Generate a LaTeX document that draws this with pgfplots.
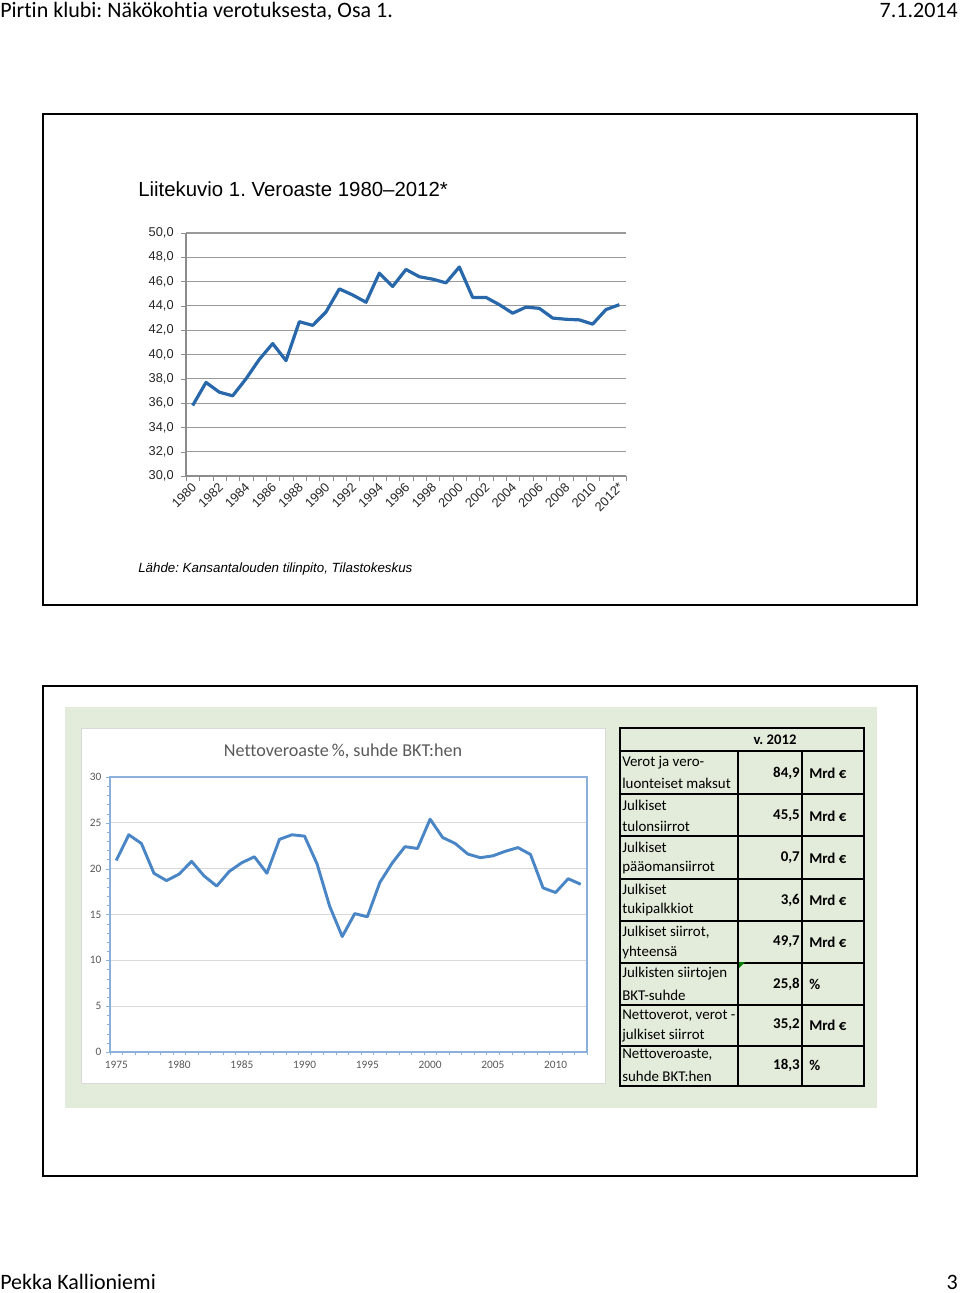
\documentclass[border=0pt]{standalone}
\usepackage{pgfplots}
\pgfplotsset{compat=1.18}
\usepackage{fontspec}
\setmainfont{Carlito}[Ligatures={NoCommon}]
\newfontfamily\arial{Liberation Sans}
\usepackage{graphicx}
\frenchspacing

\definecolor{bggreen}{RGB}{227,236,218}
\definecolor{topline}{RGB}{40,104,170}
\definecolor{botline}{RGB}{74,134,198}
\definecolor{axblue}{RGB}{140,176,220}
\definecolor{txtgray}{RGB}{89,89,89}

\pgfplotstableread{
year val
1980 35.8
1981 37.7
1982 36.9
1983 36.6
1984 38.0
1985 39.6
1986 40.9
1987 39.5
1988 42.7
1989 42.4
1990 43.5
1991 45.4
1992 44.9
1993 44.3
1994 46.7
1995 45.6
1996 47.0
1997 46.4
1998 46.2
1999 45.9
2000 47.2
2001 44.7
2002 44.7
2003 44.1
2004 43.4
2005 43.9
2006 43.8
2007 43.0
2008 42.9
2009 42.85
2010 42.5
2011 43.7
2012 44.1
}\veroaste

\pgfplotstableread{
year val
1975 20.9
1976 23.7
1977 22.75
1978 19.5
1979 18.7
1980 19.4
1981 20.8
1982 19.2
1983 18.1
1984 19.7
1985 20.65
1986 21.3
1987 19.5
1988 23.2
1989 23.7
1990 23.55
1991 20.5
1992 15.9
1993 12.6
1994 15.1
1995 14.75
1996 18.5
1997 20.65
1998 22.4
1999 22.2
2000 25.4
2001 23.4
2002 22.75
2003 21.6
2004 21.2
2005 21.4
2006 21.9
2007 22.3
2008 21.55
2009 17.9
2010 17.4
2011 18.9
2012 18.3
}\netto

\begin{document}
\begin{tikzpicture}
\begin{scope}[x=0.75pt,y=-0.75pt]
\fill[white] (0,0) rectangle (960,1293);
\useasboundingbox (0,0) rectangle (960,1293);
% header / footer
\node[anchor=base west,inner sep=0] at (0,17) {\fontsize{16.5}{20}\selectfont Pirtin klubi: Näkökohtia verotuksesta, Osa 1.};
\node[anchor=base east,inner sep=0] at (958,17) {\fontsize{16.5}{20}\selectfont 7.1.2014};
\node[anchor=base west,inner sep=0] at (0,1289) {\fontsize{16.5}{20}\selectfont Pekka Kallioniemi};
\node[anchor=base east,inner sep=0] at (958,1289) {\fontsize{16.5}{20}\selectfont 3};
% top frame
\draw[line width=1.8pt] (43,114) rectangle (917,605);
\node[anchor=base west,inner sep=0] at (138,196) {\arial\fontsize{15.3}{18}\selectfont Liitekuvio 1. Veroaste 1980–2012*};
\node[anchor=base west,inner sep=0] at (138,572) {\arial\itshape\fontsize{10}{12}\selectfont Lähde: Kansantalouden tilinpito, Tilastokeskus};
% bottom frame
\draw[line width=1.8pt] (43,686) rectangle (917,1176);
\fill[bggreen] (65,707) rectangle (877,1108);
\filldraw[fill=white,draw=black!15] (81,728) rectangle (605,1083);
\node[text=txtgray] at (343,751) {\fontsize{13.6}{16}\selectfont Nettoveroaste\,\%, suhde BKT:hen};
% table
\draw[line width=1.8pt] (620,728) rectangle (864,1086);
\foreach \yy in {751,794,836,879,921,963,1005,1046} \draw[line width=1.2pt] (620,\yy) -- (864,\yy);
\draw[line width=1.2pt] (738,751) -- (738,1086);
\draw[line width=1.2pt] (802,751) -- (802,1086);
\fill[green!50!black] (739,962) -- (745,962) -- (739,968) -- cycle;
\node at (775,740) {\fontsize{11}{13}\selectfont\bfseries v. 2012};
\begin{scope}[every node/.style={inner sep=0,font=\fontsize{11.2}{13}\selectfont}]
\node[anchor=west] at (622,763) {Verot ja vero-};
\node[anchor=west] at (622,783) {luonteiset maksut};
\node[anchor=west] at (622,805) {Julkiset};
\node[anchor=west] at (622,826) {tulonsiirrot};
\node[anchor=west] at (622,847) {Julkiset};
\node[anchor=west] at (622,868) {pääomansiirrot};
\node[anchor=west] at (622,889) {Julkiset};
\node[anchor=west] at (622,910) {tukipalkkiot};
\node[anchor=west] at (622,932) {Julkiset siirrot,};
\node[anchor=west] at (622,953) {yhteensä};
\node[anchor=west] at (622,974) {Julkisten siirtojen};
\node[anchor=west] at (622,995) {BKT-suhde};
\node[anchor=west] at (622,1016) {Nettoverot, verot -};
\node[anchor=west] at (622,1036) {julkiset siirrot};
\node[anchor=west] at (622,1055) {Nettoveroaste,};
\node[anchor=west] at (622,1076) {suhde BKT:hen};
\foreach \yy/\v/\u in {773/84{,}9/Mrd €,816/45{,}5/Mrd €,858/0{,}7/Mrd €,900/3{,}6/Mrd €,942/49{,}7/Mrd €,984/25{,}8/\%,1025/35{,}2/Mrd €,1065/18{,}3/\%}{
  \node[anchor=east] at (800,\yy) {\bfseries \v};
  \node[anchor=west] at (809,\yy) {\bfseries \u};
}
\end{scope}
\end{scope}

% top chart
\begin{axis}[at={(139.5pt,-357pt)}, anchor=south west, scale only axis,
  width=330pt, height=182.25pt,
  xmin=1979.5, xmax=2012.5, ymin=30, ymax=50,
  axis lines=left, axis line style={-, draw=black!45, line width=0.8pt},
  ytick={30,32,...,50}, ymajorgrids, major grid style={draw=black!40, line width=0.8pt},
  xtick={1980,1982,...,2012},
  xticklabels={1980,1982,1984,1986,1988,1990,1992,1994,1996,1998,2000,2002,2004,2006,2008,2010,2012*},
  minor xtick={1979.5,1980.5,...,2012.5},
  tick align=outside, major tick length=3.75pt, minor tick length=3.75pt,
  major x tick style={draw=none}, minor x tick style={draw=black!45},
  y tick style={draw=black!45},
  /pgf/number format/assume math mode=true,
  yticklabel style={font=\arial\fontsize{9.6}{11}\selectfont, text=black!85, xshift=-2pt, /pgf/number format/.cd, fixed, fixed zerofill, precision=1, use comma},
  xticklabel style={font=\arial\fontsize{9.6}{11}\selectfont, text=black!85, rotate=45, anchor=east, yshift=-3pt, xshift=2pt},
  clip=false]
\addplot[topline, line width=2.4pt, line join=round, no marks] table[x=year,y=val] {\veroaste};
\end{axis}

% bottom chart
\begin{axis}[at={(82.5pt,-789pt)}, anchor=south west, scale only axis,
  width=357.75pt, height=206.25pt,
  xmin=1974.5, xmax=2012.5, ymin=0, ymax=30,
  axis line style={draw=axblue, line width=0.8pt},
  ytick={0,5,...,30}, ymajorgrids, major grid style={draw=black!15, line width=0.6pt},
  xtick={1975,1980,...,2010},
  minor xtick={1974.5,1975.5,...,2012.5},
  minor y tick num=4,
  tick pos=left, tick align=outside, major tick length=3pt, minor tick length=2.5pt,
  major x tick style={draw=none}, minor x tick style={draw=axblue},
  y tick style={draw=axblue},
  /pgf/number format/assume math mode=true,
  xticklabel style={font=\fontsize{8.5}{10}\selectfont, text=txtgray, /pgf/number format/1000 sep={}},
  yticklabel style={font=\fontsize{8.5}{10}\selectfont, text=txtgray},
  clip=false]
\addplot[botline, line width=2.2pt, line join=round, no marks] table[x=year,y=val] {\netto};
\end{axis}
\end{tikzpicture}
\end{document}
